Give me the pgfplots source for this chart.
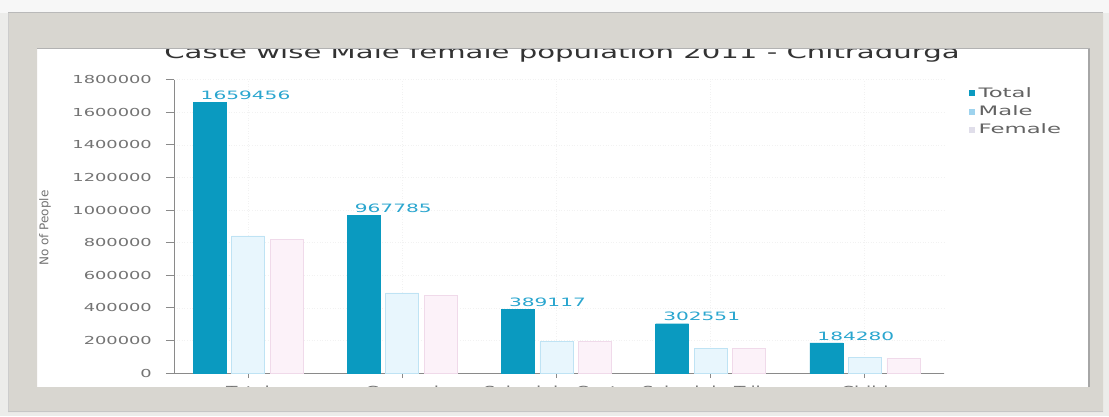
\documentclass[border=0pt]{standalone}
\usepackage{fontspec}
\setmainfont{DejaVu Sans}
\usepackage{pgfplots}
\pgfplotsset{compat=1.18}
\newfontfamily\titlefont[FakeStretch=1.62]{DejaVu Sans}
\newfontfamily\numfont[FakeStretch=1.62]{DejaVu Sans}
\newfontfamily\xfont[FakeStretch=1.5]{DejaVu Sans}
\newfontfamily\valfont[FakeStretch=1.75]{DejaVu Sans}
\newfontfamily\legfont[FakeStretch=1.75]{DejaVu Sans}
\definecolor{totalbar}{HTML}{0A9AC0}
\definecolor{malefill}{HTML}{E8F6FD}
\definecolor{maledraw}{HTML}{BFE3F4}
\definecolor{femalefill}{HTML}{FCF2F9}
\definecolor{femaledraw}{HTML}{F0DAEA}
\definecolor{valcol}{HTML}{2AA6CF}
\definecolor{malemark}{HTML}{9ED3EE}
\definecolor{femalemark}{HTML}{E0DEEA}
\definecolor{framegray}{HTML}{D8D6D0}
\definecolor{outergray}{HTML}{ECECEA}
\definecolor{axisgray}{HTML}{8A8A8A}
\definecolor{labgray}{HTML}{747474}
\begin{document}
\begin{tikzpicture}[x=1pt,y=1pt]
\fill[outergray] (0,0) rectangle (1109,416);
\fill[white] (37,29) rectangle (1090,367);
\begin{axis}[
  at={(174pt,43pt)}, anchor=south west,
  scale only axis, width=770pt, height=293.3pt,
  xmin=-0.48, xmax=4.514, ymin=0, ymax=1800000,
  axis x line*=bottom, axis y line*=left,
  axis line style={axisgray, line width=0.9pt},
  every outer x axis line/.append style={-},
  every outer y axis line/.append style={-},
  ybar=5.5pt, bar width=33pt,
  scaled y ticks=false,
  xtick={0,1,2,3,4},
  xticklabels={Total,General,Schedule Caste,Schedule Tribe,Child},
  ytick={0,200000,400000,600000,800000,1000000,1200000,1400000,1600000,1800000},
  yticklabels={0,200000,400000,600000,800000,1000000,1200000,1400000,1600000,1800000},
  tick align=outside, major tick length=8pt,
  tick style={axisgray, line width=0.8pt},
  xtick style={/pgfplots/major tick length=5pt},
  xmajorgrids, ymajorgrids,
  grid style={gray!10, line width=0.6pt, dotted},
  yticklabel style={font=\numfont\fontsize{11}{11}\selectfont, text=labgray, anchor=east, inner sep=0pt, xshift=-14pt},
  xticklabel style={font=\xfont\fontsize{12.5}{12.5}\selectfont, text=labgray, anchor=north, inner sep=0pt, yshift=-5pt},
  ylabel={No of People},
  ylabel style={at={(rel axis cs:-0.1675,0.494)}, anchor=center, font=\fontsize{12}{12}\selectfont, text=labgray},
  clip=false,
  legend style={at={(rel axis cs:1.032,0.98)}, anchor=north west, draw=none, fill=none,
    font=\legfont\fontsize{13}{13}\selectfont, text=labgray!85!black, row sep=4pt, inner sep=0pt,
    nodes={inner sep=1.5pt}},
  legend cell align=left,
]
\addplot[fill=totalbar, draw=totalbar,
  legend image code/.code={\fill[totalbar] (0pt,-2.5pt) rectangle (5pt,2.5pt);},
  point meta=explicit symbolic,
  nodes near coords={\valfont\fontsize{11.5}{11.5}\selectfont\pgfplotspointmeta},
  every node near coord/.append style={anchor=south west, inner sep=0pt, xshift=-9pt, yshift=2.5pt, text=valcol}]
  coordinates {(0,1659456)[1659456] (1,967785)[967785] (2,389117)[389117] (3,302551)[302551] (4,184280)[184280]};
\addlegendentry{\hspace{3pt}Total}
\addplot[fill=malefill, draw=maledraw,
  legend image code/.code={\fill[malemark] (0pt,-2.5pt) rectangle (5pt,2.5pt);}]
  coordinates {(0,840843) (1,492343) (2,196000) (3,152500) (4,94500)};
\addlegendentry{\hspace{3pt}Male}
\addplot[fill=femalefill, draw=femaledraw,
  legend image code/.code={\fill[femalemark] (0pt,-2.5pt) rectangle (5pt,2.5pt);}]
  coordinates {(0,818613) (1,475442) (2,193117) (3,150051) (4,89780)};
\addlegendentry{\hspace{3pt}Female}
\end{axis}
% title (partly hidden by the frame)
\node[anchor=base, inner sep=0pt, text=black!80, font=\titlefont\fontsize{18}{18}\selectfont] at (562,357) {Caste wise Male female population 2011 - Chitradurga};
% frame
\fill[framegray, even odd rule] (8,4) rectangle (1103,403) (37,29) rectangle (1090,367);
\fill[white!60!outergray] (0,403) rectangle (1109,416);
\draw[gray!55, line width=1pt] (8,403) -- (1103,403);
\draw[gray!40, line width=1pt] (8,4) -- (8,403);
\draw[gray!60, line width=1.5pt] (37,367.5) -- (1090,367.5);
\draw[gray!70, line width=1.2pt] (1089,29) -- (1089,367);
\draw[gray!45, line width=1pt] (8,4.5) -- (1103,4.5);
\end{tikzpicture}
\end{document}
